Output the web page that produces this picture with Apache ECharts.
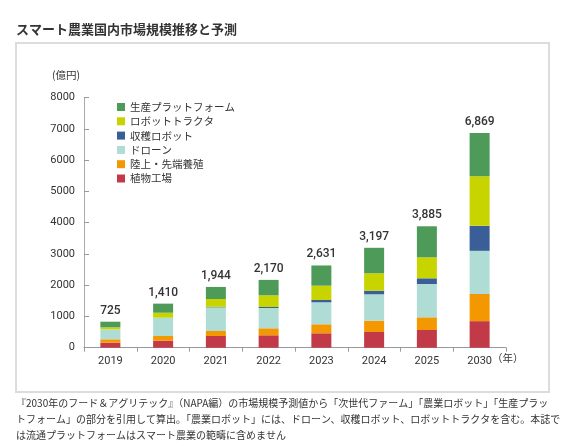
<!DOCTYPE html>
<html><head><meta charset="utf-8">
<script src="https://cdn.jsdelivr.net/npm/echarts@6/dist/echarts.min.js"></script>
<style>html,body{margin:0;padding:0;background:#fff}#c{width:567px;height:446px}</style>
</head><body><div id="c"></div>
<script>
var categories = ['2019','2020','2021','2022','2023','2024','2025','2030'];
var totals = ['725','1,410','1,944','2,170','2,631','3,197','3,885','6,869'];
var plantFactory = [160, 224, 374, 397, 461, 502, 566, 850];   // 植物工場
var aquaculture  = [109, 150, 160, 224, 288, 362, 406, 870];   // 陸上・先端養殖
var drone        = [320, 586, 758, 650, 704, 845, 1066, 1380]; // ドローン
var harvestRobot = [0, 0, 15, 32, 74, 115, 182, 800];          // 収穫ロボット
var robotTractor = [64, 160, 251, 374, 458, 557, 672, 1590];   // ロボットトラクタ
var platform     = [179, 290, 386, 493, 646, 816, 993, 1379];  // 生産プラットフォーム
var yTicks = [0, 1000, 2000, 3000, 4000, 5000, 6000, 7000, 8000];
var seriesNames = ['植物工場','陸上・先端養殖','ドローン','収穫ロボット','ロボットトラクタ','生産プラットフォーム'];
var seriesData = [plantFactory, aquaculture, drone, harvestRobot, robotTractor, platform];
var colors = ['#c23a48','#f39800','#afdcd4','#3a5e98','#c8d400','#4e9a58'];
var notes = [
  '『2030年のフード＆アグリテック』（NAPA編）の市場規模予測値から「次世代ファーム」「農業ロボット」「生産プラッ',
  'トフォーム」の部分を引用して算出。「農業ロボット」には、ドローン、収穫ロボット、ロボットトラクタを含む。本誌で',
  'は流通プラットフォームはスマート農業の範疇に含めません'
];

var CJK = '"Noto Sans CJK JP", "Noto Sans", sans-serif';
var NUM = 'Roboto, "Noto Sans CJK JP", sans-serif';

var series = seriesNames.map(function(n, i){
  var s = {
    name: n, type: 'bar', stack: 'total', data: seriesData[i],
    barWidth: 20, itemStyle: {color: colors[i]},
    emphasis: {disabled: true}
  };
  if (i === seriesNames.length - 1) {
    s.label = {show: true, position: 'top', distance: 5,
      formatter: function(p){ return totals[p.dataIndex]; },
      fontSize: 12, fontFamily: NUM, fontWeight: 500, color: '#333'};
  }
  return s;
});

var graphics = [
  {type:'rect', shape:{x:16, y:43, width:533, height:349}, style:{fill:'none', stroke:'#dcdcdc', lineWidth:2}, silent:true},
  {type:'text', left:16, top:23, style:{text:'スマート農業国内市場規模推移と予測', font:'bold 13px '+CJK, fill:'#333'}},
  {type:'text', left:52, top:70, style:{text:'(億円)', font:'10.5px '+CJK, fill:'#333'}},
  {type:'text', left:492, top:353, style:{text:'（年）', font:'10.5px '+CJK, fill:'#333'}}
];
notes.forEach(function(t, i){
  graphics.push({type:'text', left:16, top:398 + i*16, style:{text:t, font:'10px '+CJK, fill:'#333'}});
});

var chart = echarts.init(document.getElementById('c'), null, {renderer:'canvas'});
chart.setOption({
  animation: false,
  backgroundColor: '#fff',
  grid: {left: 84, right: 61, top: 97.7, bottom: 98.3},
  legend: {
    data: seriesNames.slice().reverse(), orient: 'vertical', left: 112, top: 95,
    icon: 'rect', itemWidth: 8, itemHeight: 8, itemGap: 0.3,
    textStyle: {fontSize: 10.5, fontFamily: CJK, color: '#333', lineHeight: 14},
    selectedMode: false
  },
  xAxis: {
    type: 'category', data: categories,
    axisLine: {lineStyle: {color: '#999'}},
    axisTick: {show: true, length: 4, lineStyle: {color: '#999'}},
    axisLabel: {fontSize: 11, fontFamily: NUM, color: '#333', margin: 8}
  },
  yAxis: {
    type: 'value', min: yTicks[0], max: yTicks[yTicks.length-1], interval: 1000,
    axisLine: {show: true, lineStyle: {color: '#aaa'}},
    axisTick: {show: true, inside: true, length: 5, lineStyle: {color: '#999'}},
    splitLine: {show: false},
    axisLabel: {fontSize: 11, fontFamily: NUM, color: '#333', margin: 9,
      formatter: function(v){ return String(v); }}
  },
  series: series,
  graphic: graphics
});
</script></body></html>
